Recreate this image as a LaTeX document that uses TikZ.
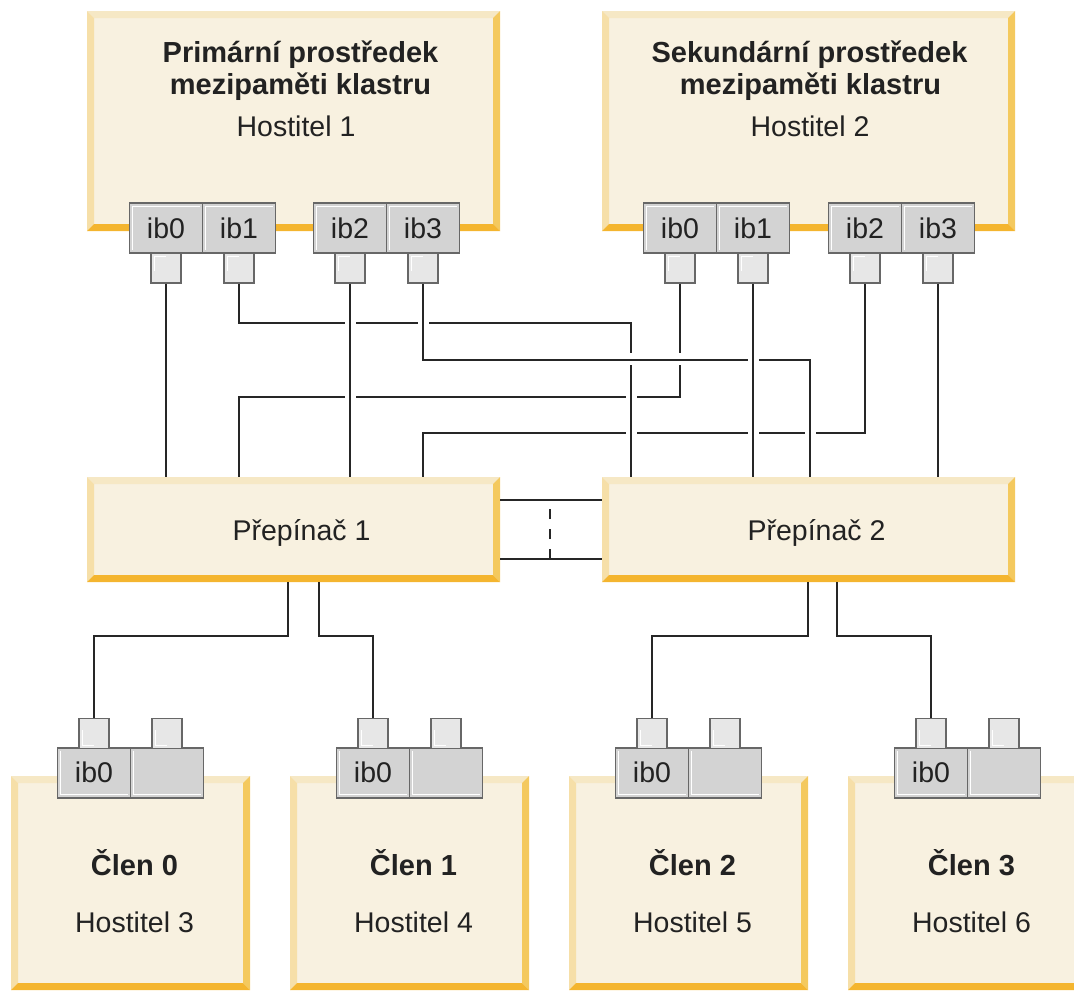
\documentclass[tikz,border=0pt]{standalone}
\usepackage{fontspec}
\setmainfont{Liberation Sans}
\definecolor{cream}{HTML}{F8F1E0}
\definecolor{bvtop}{HTML}{F6E8C5}
\definecolor{bvleft}{HTML}{F6DFA8}
\definecolor{bvright}{HTML}{F4C95E}
\definecolor{bvbot}{HTML}{F4B52F}
\definecolor{portfill}{HTML}{D3D3D3}
\definecolor{portdraw}{HTML}{676767}
\definecolor{confill}{HTML}{E7E7E7}
\definecolor{wirec}{HTML}{262626}
\definecolor{textc}{HTML}{222222}
\tikzset{
 wire/.style={draw=wirec, line width=2pt},
 gapmask/.style={fill=white, draw=none},
 bevel/.style={rectangle, fill=cream, inner sep=0pt, path picture={
   \fill[bvtop] (path picture bounding box.north west) -- (path picture bounding box.north east) -- ([shift={(-7pt,-7pt)}]path picture bounding box.north east) -- ([shift={(7pt,-7pt)}]path picture bounding box.north west) -- cycle;
   \fill[bvleft] (path picture bounding box.north west) -- ([shift={(7pt,-7pt)}]path picture bounding box.north west) -- ([shift={(7pt,7pt)}]path picture bounding box.south west) -- (path picture bounding box.south west) -- cycle;
   \fill[bvright] (path picture bounding box.north east) -- (path picture bounding box.south east) -- ([shift={(-7pt,7pt)}]path picture bounding box.south east) -- ([shift={(-7pt,-7pt)}]path picture bounding box.north east) -- cycle;
   \fill[bvbot] (path picture bounding box.south west) -- (path picture bounding box.south east) -- ([shift={(-7pt,7pt)}]path picture bounding box.south east) -- ([shift={(7pt,7pt)}]path picture bounding box.south west) -- cycle;
 }},
 hostbox/.style={bevel, minimum width=413pt, minimum height=220pt},
 switchbox/.style={bevel, minimum width=413pt, minimum height=105pt},
 memberbox/.style={bevel, minimum width=239pt, minimum height=214pt},
 txt/.style={font=\fontsize{28.5}{31}\selectfont, text=textc, inner sep=0pt},
 btxt/.style={font=\bfseries\fontsize{29}{31}\selectfont, text=textc, inner sep=0pt},
 port/.style={rectangle, fill=portfill, draw=portdraw, line width=1.6pt, minimum width=73pt, minimum height=50pt, inner sep=0pt, font=\fontsize{28.5}{31}\selectfont, text=textc},
 hport/.style={port, path picture={\draw[white, line width=1pt] ([shift={(3pt,3pt)}]path picture bounding box.south west) |- ([shift={(-3pt,-3pt)}]path picture bounding box.north east);}},
 mport/.style={port, path picture={\draw[white, line width=1pt] ([shift={(3pt,-3pt)}]path picture bounding box.north west) |- ([shift={(-3pt,3pt)}]path picture bounding box.south east);}},
 con/.style={rectangle, fill=confill, draw=portdraw, line width=1.6pt, minimum width=30pt, minimum height=30pt, inner sep=0pt},
 hcon/.style={con, path picture={\draw[white, line width=1pt] ([shift={(3pt,12pt)}]path picture bounding box.south west) |- ([shift={(15pt,-3pt)}]path picture bounding box.north west);}},
 mcon/.style={con, path picture={\draw[white, line width=1pt] ([shift={(3pt,-12pt)}]path picture bounding box.north west) |- ([shift={(15pt,3pt)}]path picture bounding box.south west);}},
}
% break in a horizontal line where a vertical line passes over it
\newcommand{\hgap}[2]{\fill[gapmask] (#1-5.5,#2-4) rectangle (#1+5.5,#2+4);}
% break in a vertical line where a horizontal line passes over it
\newcommand{\vgap}[2]{\fill[gapmask] (#1-4,#2-6) rectangle (#1+4,#2+6);}
\begin{document}
\begin{tikzpicture}[x=1pt,y=-1pt]
\useasboundingbox (0,0) rectangle (1074,991);
\clip (0,0) rectangle (1074,991);

% boxes
\node[hostbox] (h1) at (293.5,121) {};
\node[hostbox] (h2) at (808.5,121) {};
\node[switchbox] (sw1) at (293.5,529.5) {};
\node[switchbox] (sw2) at (808.5,529.5) {};
\node[memberbox] (m0) at (130.5,883) {};
\node[memberbox] (m1) at (409.5,883) {};
\node[memberbox] (m2) at (688.5,883) {};
\node[memberbox] (m3) at (967.5,883) {};

% texts
\node[btxt, anchor=base] (h1t1) at ([xshift=7pt,yshift=-52pt]h1.north) {Primární prostředek};
\node[btxt, anchor=base] (h1t2) at ([xshift=7pt,yshift=-84pt]h1.north) {mezipaměti klastru};
\node[txt, anchor=base] (h1t3) at ([xshift=2.5pt,yshift=-126pt]h1.north) {Hostitel 1};
\node[btxt, anchor=base] (h2t1) at ([xshift=1pt,yshift=-52pt]h2.north) {Sekundární prostředek};
\node[btxt, anchor=base] (h2t2) at ([xshift=2pt,yshift=-84pt]h2.north) {mezipaměti klastru};
\node[txt, anchor=base] (h2t3) at ([xshift=1.5pt,yshift=-126pt]h2.north) {Hostitel 2};
\node[txt, anchor=base] (sw1t) at ([xshift=8pt,yshift=-11pt]sw1.center) {Přepínač 1};
\node[txt, anchor=base] (sw2t) at ([xshift=8pt,yshift=-11pt]sw2.center) {Přepínač 2};
\foreach \m/\a/\b in {0/0/3,1/1/4,2/2/5,3/3/6}{
  \node[btxt, anchor=base] (m\m t1) at ([xshift=4pt,yshift=-100pt]m\m.north) {Člen \a};
  \node[txt, anchor=base] (m\m t2) at ([xshift=4pt,yshift=-157pt]m\m.north) {Hostitel \b};
}

% ports on host boxes
\node[hport] (h1p0) at (166,228) {ib0};
\node[hport] (h1p1) at (239,228) {ib1};
\node[hport] (h1p2) at (350,228) {ib2};
\node[hport] (h1p3) at (423,228) {ib3};
\node[hport] (h2p0) at (680,228) {ib0};
\node[hport] (h2p1) at (753,228) {ib1};
\node[hport] (h2p2) at (865,228) {ib2};
\node[hport] (h2p3) at (938,228) {ib3};
\foreach \h in {1,2}{
  \foreach \p in {0,1,2,3}{
    \node[hcon] (h\h c\p) at ([yshift=-40pt]h\h p\p.center) {};
  }
}

% ports on member boxes
\foreach \m in {0,1,2,3}{
  \node[mport] (m\m p0) at ([xshift=-36.5pt,yshift=3pt]m\m.north) {ib0};
  \node[mport] (m\m p1) at ([xshift=36.5pt,yshift=3pt]m\m.north) {};
  \node[mcon] (m\m c0) at ([xshift=-36.5pt,yshift=42.5pt]m\m.north) {};
  \node[mcon] (m\m c1) at ([xshift=36.5pt,yshift=42.5pt]m\m.north) {};
}

% host to switch wires, drawn from the lowest layer up;
% the gaps are cut just before the line that passes over them
\draw[wire] (h2c2.south) -- ++(0,149) -| (h1c3.south |- sw1.north);
\draw[wire] (h2c0.south) -- ++(0,113) -| (h1c1.south |- sw1.north);
\hgap{631}{396} \hgap{631}{432}
\draw[wire] (h1c1.south) -- ++(0,39) -| ([xshift=29pt]sw2.north west);
\hgap{423}{322} \vgap{631}{359} \vgap{680}{359} \hgap{810}{432}
\draw[wire] (h1c3.south) -- ++(0,76) -| ([xshift=208pt]sw2.north west);
\hgap{350}{322} \hgap{350}{396}
\draw[wire] (h1c2.south) -- (h1c2.south |- sw1.north);
\hgap{753}{359} \hgap{753}{432}
\draw[wire] (h2c1.south) -- (h2c1.south |- sw2.north);
\draw[wire] (h1c0.south) -- (h1c0.south |- sw1.north);
\draw[wire] (h2c3.south) -- (h2c3.south |- sw2.north);

% switch interconnect
\draw[wire] ([yshift=-23.5pt]sw1.north east) -- ([yshift=-23.5pt]sw2.north west);
\draw[wire] ([yshift=-82pt]sw1.north east) -- ([yshift=-82pt]sw2.north west);
\coordinate (dlo) at (550,559);
\coordinate (dup) at (550,500.5);
\draw[wire, dash pattern=on 10pt off 10pt] (dlo) -- (dup);

% switch to member wires
\draw[wire] ([xshift=201pt]sw1.south west) -- ++(0,54) -| (m0c0.north);
\draw[wire] ([xshift=232pt]sw1.south west) -- ++(0,54) -| (m1c0.north);
\draw[wire] ([xshift=206pt]sw2.south west) -- ++(0,54) -| (m2c0.north);
\draw[wire] ([xshift=235pt]sw2.south west) -- ++(0,54) -| (m3c0.north);
\end{tikzpicture}
\end{document}
